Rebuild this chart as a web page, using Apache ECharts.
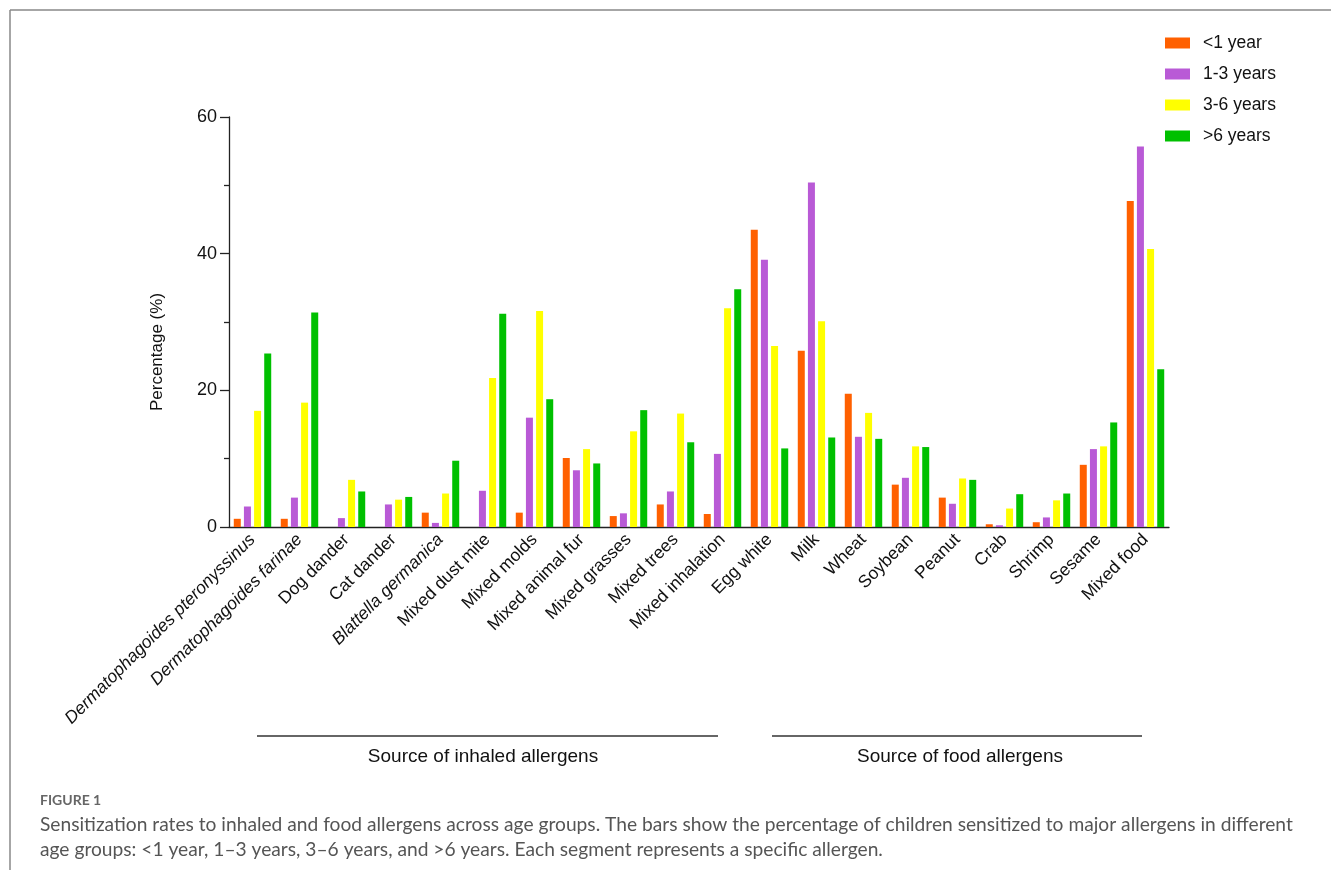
<!DOCTYPE html>
<html>
<head>
<meta charset="utf-8">
<script src="https://cdn.jsdelivr.net/npm/echarts@6/dist/echarts.min.js"></script>
<style>
  html, body { margin: 0; padding: 0; background: #fff; }
  #chart { width: 1331px; height: 870px; }
</style>
</head>
<body>
<div id="chart"></div>
<script>
// Allergen categories (inhaled first, then food)
const categories = [
  'Dermatophagoides pteronyssinus', 'Dermatophagoides farinae', 'Dog dander', 'Cat dander',
  'Blattella germanica', 'Mixed dust mite', 'Mixed molds', 'Mixed animal fur', 'Mixed grasses',
  'Mixed trees', 'Mixed inhalation', 'Egg white', 'Milk', 'Wheat', 'Soybean', 'Peanut',
  'Crab', 'Shrimp', 'Sesame', 'Mixed food'
];
// Scientific names shown in italics
const italicNames = ['Dermatophagoides pteronyssinus', 'Dermatophagoides farinae', 'Blattella germanica'];

const ageGroups = ['<1 year', '1-3 years', '3-6 years', '>6 years'];

// Sensitization rates (%) per age group
const under1 = [1.2, 1.2, 0, 0, 2.1, 0, 2.1, 10.1, 1.6, 3.3, 1.9, 43.5, 25.8, 19.5, 6.2, 4.3, 0.4, 0.7, 9.1, 47.7];
const age1to3 = [3.0, 4.3, 1.3, 3.3, 0.6, 5.3, 16.0, 8.3, 2.0, 5.2, 10.7, 39.1, 50.4, 13.2, 7.2, 3.4, 0.25, 1.4, 11.4, 55.7];
const age3to6 = [17.0, 18.2, 6.9, 4.0, 4.9, 21.8, 31.6, 11.4, 14.0, 16.6, 32.0, 26.5, 30.1, 16.7, 11.8, 7.1, 2.7, 3.9, 11.8, 40.7];
const over6 = [25.4, 31.4, 5.2, 4.4, 9.7, 31.2, 18.7, 9.3, 17.1, 12.4, 34.8, 11.5, 13.1, 12.9, 11.7, 6.9, 4.8, 4.9, 15.3, 23.1];

const yTicks = [0, 20, 40, 60];

const colors = ['#FF6000', '#B95AD6', '#FFFF00', '#00C000'];
const seriesValues = [under1, age1to3, age3to6, over6];

const FONT = 'Arial, "Liberation Sans", sans-serif';
const CAPTION_FONT = 'Lato, "Open Sans", sans-serif';

const chart = echarts.init(document.getElementById('chart'), null, { renderer: 'canvas' });

const option = {
  backgroundColor: '#fff',
  animation: false,
  color: colors,
  grid: { left: 229, right: 162, top: 117, bottom: 343, containLabel: false },
  legend: {
    orient: 'vertical',
    left: 1160,
    top: 29,
    itemWidth: 25,
    itemHeight: 11,
    itemGap: 13,
    icon: 'rect',
    textStyle: { fontFamily: FONT, fontSize: 17.5, color: '#111', padding: [0, 0, 0, 8] },
    data: ageGroups
  },
  xAxis: {
    type: 'category',
    data: categories,
    boundaryGap: true,
    axisLine: { lineStyle: { color: '#222', width: 1.3 } },
    axisTick: { alignWithLabel: true, length: 8, lineStyle: { color: '#222', width: 1.3 } },
    axisLabel: {
      interval: 0,
      rotate: 45,
      margin: 10,
      fontFamily: FONT,
      fontSize: 17.5,
      color: '#111',
      formatter: function (v) {
        return italicNames.indexOf(v) >= 0 ? '{i|' + v + '}' : v;
      },
      rich: {
        i: { fontStyle: 'italic', fontFamily: FONT, fontSize: 17.5, color: '#111' }
      }
    }
  },
  yAxis: {
    type: 'value',
    min: yTicks[0],
    max: yTicks[yTicks.length - 1],
    interval: 20,
    splitLine: { show: false },
    axisLine: { show: true, lineStyle: { color: '#222', width: 1.3 } },
    axisTick: { show: true, length: 9, lineStyle: { color: '#222', width: 1.3 } },
    minorTick: { show: true, splitNumber: 2, length: 5, lineStyle: { color: '#222', width: 1.3 } },
    axisLabel: { fontFamily: FONT, fontSize: 18, color: '#111', margin: 12 }
  },
  series: ageGroups.map(function (name, i) {
    return {
      name: name,
      type: 'bar',
      data: seriesValues[i],
      barWidth: 7,
      barGap: '45%',
      itemStyle: { color: colors[i] }
    };
  }),
  graphic: [
    // page frame
    { type: 'line', shape: { x1: 10, y1: 10, x2: 1331, y2: 10 }, style: { stroke: '#888', lineWidth: 1.5 } },
    { type: 'line', shape: { x1: 10, y1: 10, x2: 10, y2: 870 }, style: { stroke: '#888', lineWidth: 1.5 } },
    // y-axis title
    {
      type: 'text', x: 157, y: 352, rotation: Math.PI / 2,
      style: { text: 'Percentage (%)', font: '17px ' + FONT, fill: '#111', align: 'center', verticalAlign: 'middle' }
    },
    // group brackets
    { type: 'line', shape: { x1: 257, y1: 736, x2: 718, y2: 736 }, style: { stroke: '#333', lineWidth: 1.3 } },
    { type: 'line', shape: { x1: 772, y1: 736, x2: 1142, y2: 736 }, style: { stroke: '#333', lineWidth: 1.3 } },
    {
      type: 'text', x: 483, y: 757,
      style: { text: 'Source of inhaled allergens', font: '19px ' + FONT, fill: '#111', align: 'center', verticalAlign: 'middle' }
    },
    {
      type: 'text', x: 960, y: 757,
      style: { text: 'Source of food allergens', font: '19px ' + FONT, fill: '#111', align: 'center', verticalAlign: 'middle' }
    },
    // caption
    {
      type: 'text', x: 40, y: 800,
      style: { text: 'FIGURE 1', font: 'bold 14px ' + CAPTION_FONT, fill: '#666', verticalAlign: 'middle' }
    },
    {
      type: 'text', x: 40, y: 825,
      style: {
        text: 'Sensitization rates to inhaled and food allergens across age groups. The bars show the percentage of children sensitized to major allergens in different',
        font: '19.2px ' + CAPTION_FONT, fill: '#555', verticalAlign: 'middle'
      }
    },
    {
      type: 'text', x: 40, y: 850,
      style: {
        text: 'age groups: <1 year, 1\u20133 years, 3\u20136 years, and >6 years. Each segment represents a specific allergen.',
        font: '19.2px ' + CAPTION_FONT, fill: '#555', verticalAlign: 'middle'
      }
    }
  ]
};

chart.setOption(option);
</script>
</body>
</html>
